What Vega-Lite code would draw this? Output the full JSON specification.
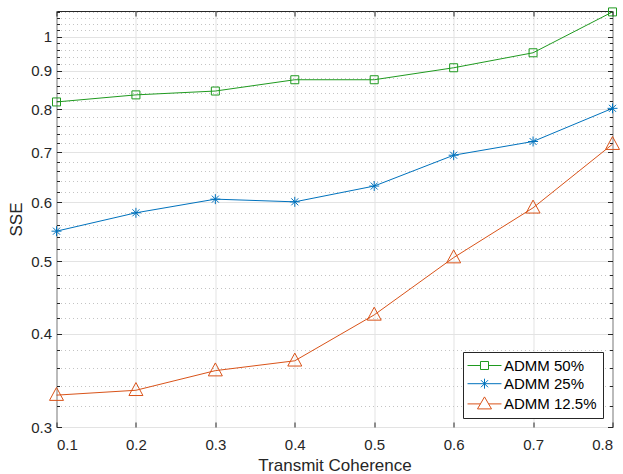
{
  "$schema": "https://vega.github.io/schema/vega-lite/v6.json",
  "width": 556,
  "height": 416,
  "autosize": {"type": "none"},
  "padding": {"left": 56.5, "top": 11, "right": 10.5, "bottom": 47},
  "config": {
    "view": {"stroke": "#262626", "strokeWidth": 1},
    "font": "Liberation Sans",
    "axis": {
      "labelFont": "Liberation Sans", "labelFontSize": 15, "labelColor": "#262626",
      "titleFont": "Liberation Sans", "titleFontSize": 17, "titleFontWeight": "normal", "titleColor": "#262626",
      "tickColor": "#262626", "domain": false, "gridColor": "#e3e3e3", "gridWidth": 1
    }
  },
  "data": {
    "values": [
      {"tc": 0.1, "series": "ADMM 50%", "sse": 0.818},
      {"tc": 0.2, "series": "ADMM 50%", "sse": 0.836},
      {"tc": 0.3, "series": "ADMM 50%", "sse": 0.846},
      {"tc": 0.4, "series": "ADMM 50%", "sse": 0.876},
      {"tc": 0.5, "series": "ADMM 50%", "sse": 0.876},
      {"tc": 0.6, "series": "ADMM 50%", "sse": 0.909},
      {"tc": 0.7, "series": "ADMM 50%", "sse": 0.952},
      {"tc": 0.8, "series": "ADMM 50%", "sse": 1.08},
      {"tc": 0.1, "series": "ADMM 25%", "sse": 0.549},
      {"tc": 0.2, "series": "ADMM 25%", "sse": 0.581},
      {"tc": 0.3, "series": "ADMM 25%", "sse": 0.606},
      {"tc": 0.4, "series": "ADMM 25%", "sse": 0.601},
      {"tc": 0.5, "series": "ADMM 25%", "sse": 0.631},
      {"tc": 0.6, "series": "ADMM 25%", "sse": 0.694},
      {"tc": 0.7, "series": "ADMM 25%", "sse": 0.724},
      {"tc": 0.8, "series": "ADMM 25%", "sse": 0.802},
      {"tc": 0.1, "series": "ADMM 12.5%", "sse": 0.331},
      {"tc": 0.2, "series": "ADMM 12.5%", "sse": 0.336},
      {"tc": 0.3, "series": "ADMM 12.5%", "sse": 0.357},
      {"tc": 0.4, "series": "ADMM 12.5%", "sse": 0.368},
      {"tc": 0.5, "series": "ADMM 12.5%", "sse": 0.424},
      {"tc": 0.6, "series": "ADMM 12.5%", "sse": 0.506},
      {"tc": 0.7, "series": "ADMM 12.5%", "sse": 0.59},
      {"tc": 0.8, "series": "ADMM 12.5%", "sse": 0.718}
    ]
  },
  "layer": [
    {
      "mark": {"type": "line", "strokeWidth": 1, "clip": false},
      "encoding": {
        "x": {"field": "tc", "type": "quantitative", "scale": {"domain": [0.1, 0.8], "nice": false, "zero": false},
          "axis": {"orient": "bottom", "values": [0.1, 0.2, 0.3, 0.4, 0.5, 0.6, 0.7, 0.8], "format": ".1f", "title": "Transmit Coherence", "grid": true, "tickSize": -5, "labelPadding": 15, "titlePadding": 5}},
        "y": {"field": "sse", "type": "quantitative", "scale": {"type": "log", "domain": [0.3, 1.083], "nice": false},
          "axis": {"orient": "left", "values": [0.32, 0.34, 0.36, 0.38, 0.42, 0.44, 0.46, 0.48, 0.52, 0.54, 0.56, 0.58, 0.62, 0.64, 0.66, 0.68, 0.72, 0.74, 0.76, 0.78, 0.82, 0.84, 0.86, 0.88, 0.92, 0.94, 0.96, 0.98, 1.02, 1.04, 1.06, 1.08], "labels": false, "grid": true, "gridDash": [1, 3], "gridColor": "#c4c4c4", "tickSize": -3, "title": null}},
        "color": {"field": "series", "type": "nominal", "scale": {"domain": ["ADMM 50%", "ADMM 25%", "ADMM 12.5%"], "range": ["#1f9a1f", "#0072BD", "#D95319"]}, "legend": null}
      }
    },
    {
      "transform": [{"filter": "datum.series === 'ADMM 50%'"}],
      "mark": {"type": "point", "shape": "M-1,-1H1V1H-1Z", "size": 64, "filled": false, "color": "#1f9a1f", "strokeWidth": 1, "opacity": 1, "clip": false},
      "encoding": {
        "x": {"field": "tc", "type": "quantitative", "scale": {"domain": [0.1, 0.8], "nice": false, "zero": false},
          "axis": {"orient": "top", "values": [0.1, 0.2, 0.3, 0.4, 0.5, 0.6, 0.7, 0.8], "labels": false, "grid": false, "tickSize": -5, "title": null}},
        "y": {"field": "sse", "type": "quantitative", "scale": {"type": "log", "domain": [0.3, 1.083], "nice": false},
          "axis": {"orient": "left", "values": [0.3, 0.4, 0.5, 0.6, 0.7, 0.8, 0.9, 1], "format": "~g", "title": "SSE", "grid": true, "tickSize": -5, "labelPadding": 10, "titlePadding": 5}}
      }
    },
    {
      "transform": [{"filter": "datum.series === 'ADMM 25%'"}],
      "mark": {"type": "point", "shape": "M-1,0H1M0,-1V1M-0.7,-0.7L0.7,0.7M-0.7,0.7L0.7,-0.7", "size": 100, "filled": false, "color": "#0072BD", "strokeWidth": 1, "opacity": 1, "clip": false},
      "encoding": {
        "x": {"field": "tc", "type": "quantitative", "scale": {"domain": [0.1, 0.8], "nice": false, "zero": false}, "axis": null},
        "y": {"field": "sse", "type": "quantitative", "scale": {"type": "log", "domain": [0.3, 1.083], "nice": false},
          "axis": {"orient": "right", "values": [0.3, 0.4, 0.5, 0.6, 0.7, 0.8, 0.9, 1], "labels": false, "grid": false, "tickSize": -5, "title": null}}
      }
    },
    {
      "transform": [{"filter": "datum.series === 'ADMM 12.5%'"}],
      "mark": {"type": "point", "shape": "M-1,0.75L0,-1.1L1,0.75Z", "size": 196, "filled": false, "color": "#D95319", "strokeWidth": 1, "opacity": 1, "clip": false},
      "encoding": {
        "x": {"field": "tc", "type": "quantitative", "scale": {"domain": [0.1, 0.8], "nice": false, "zero": false}, "axis": null},
        "y": {"field": "sse", "type": "quantitative", "scale": {"type": "log", "domain": [0.3, 1.083], "nice": false},
          "axis": {"orient": "right", "values": [0.32, 0.34, 0.36, 0.38, 0.42, 0.44, 0.46, 0.48, 0.52, 0.54, 0.56, 0.58, 0.62, 0.64, 0.66, 0.68, 0.72, 0.74, 0.76, 0.78, 0.82, 0.84, 0.86, 0.88, 0.92, 0.94, 0.96, 0.98, 1.02, 1.04, 1.06, 1.08], "labels": false, "grid": false, "tickSize": -3, "title": null}}
      }
    },
    {
      "mark": {"type": "point", "filled": false, "opacity": 0},
      "encoding": {
        "x": {"field": "tc", "type": "quantitative", "scale": {"domain": [0.1, 0.8], "nice": false, "zero": false}, "axis": null},
        "y": {"field": "sse", "type": "quantitative", "scale": {"type": "log", "domain": [0.3, 1.083], "nice": false}, "axis": null},
        "color": {"field": "series", "type": "nominal", "scale": {"domain": ["ADMM 50%", "ADMM 25%", "ADMM 12.5%"], "range": ["#1f9a1f", "#0072BD", "#D95319"]},
          "legend": {"orient": "none", "legendX": 406.5, "legendY": 341, "title": null, "fillColor": "white", "strokeColor": "#262626", "padding": 6, "symbolSize": 144, "symbolStrokeWidth": 1, "symbolOpacity": 1, "symbolOffset": 8, "labelOffset": 12, "labelFontSize": 15, "labelFont": "Liberation Sans", "labelColor": "#000000", "rowPadding": 2.2}},
        "shape": {"field": "series", "type": "nominal", "scale": {"domain": ["ADMM 50%", "ADMM 25%", "ADMM 12.5%"], "range": ["M-2.83,0H-0.667M0.667,0H2.83M-0.667,-0.667H0.667V0.667H-0.667Z", "M-2.83,0H2.83M0,-0.833V0.833M-0.59,-0.59L0.59,0.59M-0.59,0.59L0.59,-0.59", "M-2.83,0H-0.68M0.68,0H2.83M-1.167,0.833L0,-1.167L1.167,0.833Z"]},
          "legend": {"orient": "none", "legendX": 406.5, "legendY": 341, "title": null, "fillColor": "white", "strokeColor": "#262626", "padding": 6, "symbolSize": 144, "symbolStrokeWidth": 1, "symbolOpacity": 1, "symbolOffset": 8, "labelOffset": 12, "labelFontSize": 15, "labelFont": "Liberation Sans", "labelColor": "#000000", "rowPadding": 2.2}}
      }
    }
  ],
  "resolve": {
    "axis": {"x": "independent", "y": "independent"},
    "scale": {"color": "independent", "shape": "independent"}
  }
}
